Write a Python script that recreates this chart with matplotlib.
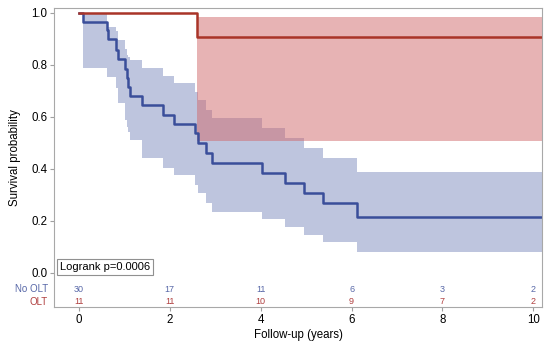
import matplotlib.pyplot as plt

plt.rcParams['font.family'] = ['Liberation Sans', 'DejaVu Sans']

# No OLT group: event times, survival, CI
no_olt_times = [0.10, 0.61, 0.65, 0.81, 0.86, 1.01, 1.06, 1.08, 1.12, 1.38, 1.86, 2.09,
                2.56, 2.63, 2.80, 2.92, 4.03, 4.54, 4.96, 5.37, 6.12]
no_olt_surv = [0.967, 0.933, 0.900, 0.857, 0.823, 0.785, 0.750, 0.716, 0.682, 0.644, 0.607, 0.573,
               0.537, 0.498, 0.460, 0.421, 0.383, 0.344, 0.306, 0.267, 0.213]
no_olt_lower = [0.787, 0.755, 0.755, 0.710, 0.652, 0.588, 0.560, 0.540, 0.511, 0.440, 0.402, 0.376,
                0.338, 0.306, 0.267, 0.235, 0.206, 0.175, 0.145, 0.119, 0.081]
no_olt_upper = [1.000, 0.962, 0.945, 0.929, 0.897, 0.860, 0.840, 0.830, 0.819, 0.787, 0.757, 0.729,
                0.697, 0.665, 0.627, 0.595, 0.556, 0.517, 0.479, 0.440, 0.389]

# OLT group
olt_times = [2.59]
olt_surv = [0.909]
olt_lower = [0.508]
olt_upper = [0.986]

t_end = 10.19

risk_times = [0, 2, 4, 6, 8, 10]
risk_no_olt = [30, 17, 11, 6, 3, 2]
risk_olt = [11, 11, 10, 9, 7, 2]

blue = '#3A4E9A'
red = '#A93428'
blue_fill = '#7F8DBF'
red_fill = '#D1696B'

fig = plt.figure(figsize=(5.5, 3.5), dpi=100)
ax = fig.add_axes([0.0987, 0.123, 0.8868, 0.854])

def draw_group(times, surv, lower, upper, line_col, fill_col):
  bt = times + [t_end]
  ax.fill_between(bt, lower + [lower[-1]], upper + [upper[-1]], step='post',
                  color=fill_col, alpha=0.5, linewidth=0)
  t = [0] + times + [t_end]
  s = [1.0] + surv + [surv[-1]]
  ax.step(t, s, where='post', color=line_col, linewidth=1.8)

draw_group(no_olt_times, no_olt_surv, no_olt_lower, no_olt_upper, blue, blue_fill)
draw_group(olt_times, olt_surv, olt_lower, olt_upper, red, red_fill)

ax.set_xlim(-0.54, t_end)
ax.set_ylim(-0.132, 1.019)
ax.set_xticks(risk_times)
ax.set_yticks([0.0, 0.2, 0.4, 0.6, 0.8, 1.0])
ax.set_yticklabels(['0.0', '0.2', '0.4', '0.6', '0.8', '1.0'])
ax.tick_params(labelsize=8.3, length=3, color='#A0A0A0', pad=2)
for sp in ax.spines.values():
  sp.set_color('#A8A8A8')
  sp.set_linewidth(0.8)

ax.set_xlabel('Follow-up (years)', fontsize=8.3, labelpad=2)
ax.set_ylabel('Survival probability', fontsize=8.3, labelpad=7)

# at-risk table
for x, n1, n2 in zip(risk_times, risk_no_olt, risk_olt):
  ax.text(x, -0.063, str(n1), color='#5868A8', fontsize=6.5, ha='center', va='center')
  ax.text(x, -0.112, str(n2), color='#B04040', fontsize=6.5, ha='center', va='center')
ytr = ax.get_yaxis_transform()
ax.text(-0.013, -0.063, 'No OLT', color='#5868A8', fontsize=7, ha='right', va='center', transform=ytr)
ax.text(-0.013, -0.112, 'OLT', color='#B04040', fontsize=7, ha='right', va='center', transform=ytr)

ax.text(-0.42, 0.022, 'Logrank p=0.0006', fontsize=8, ha='left', va='center',
        bbox=dict(boxstyle='square,pad=0.25', facecolor='white', edgecolor='#909090', linewidth=0.8))

fig.savefig('out.png', dpi=100)
